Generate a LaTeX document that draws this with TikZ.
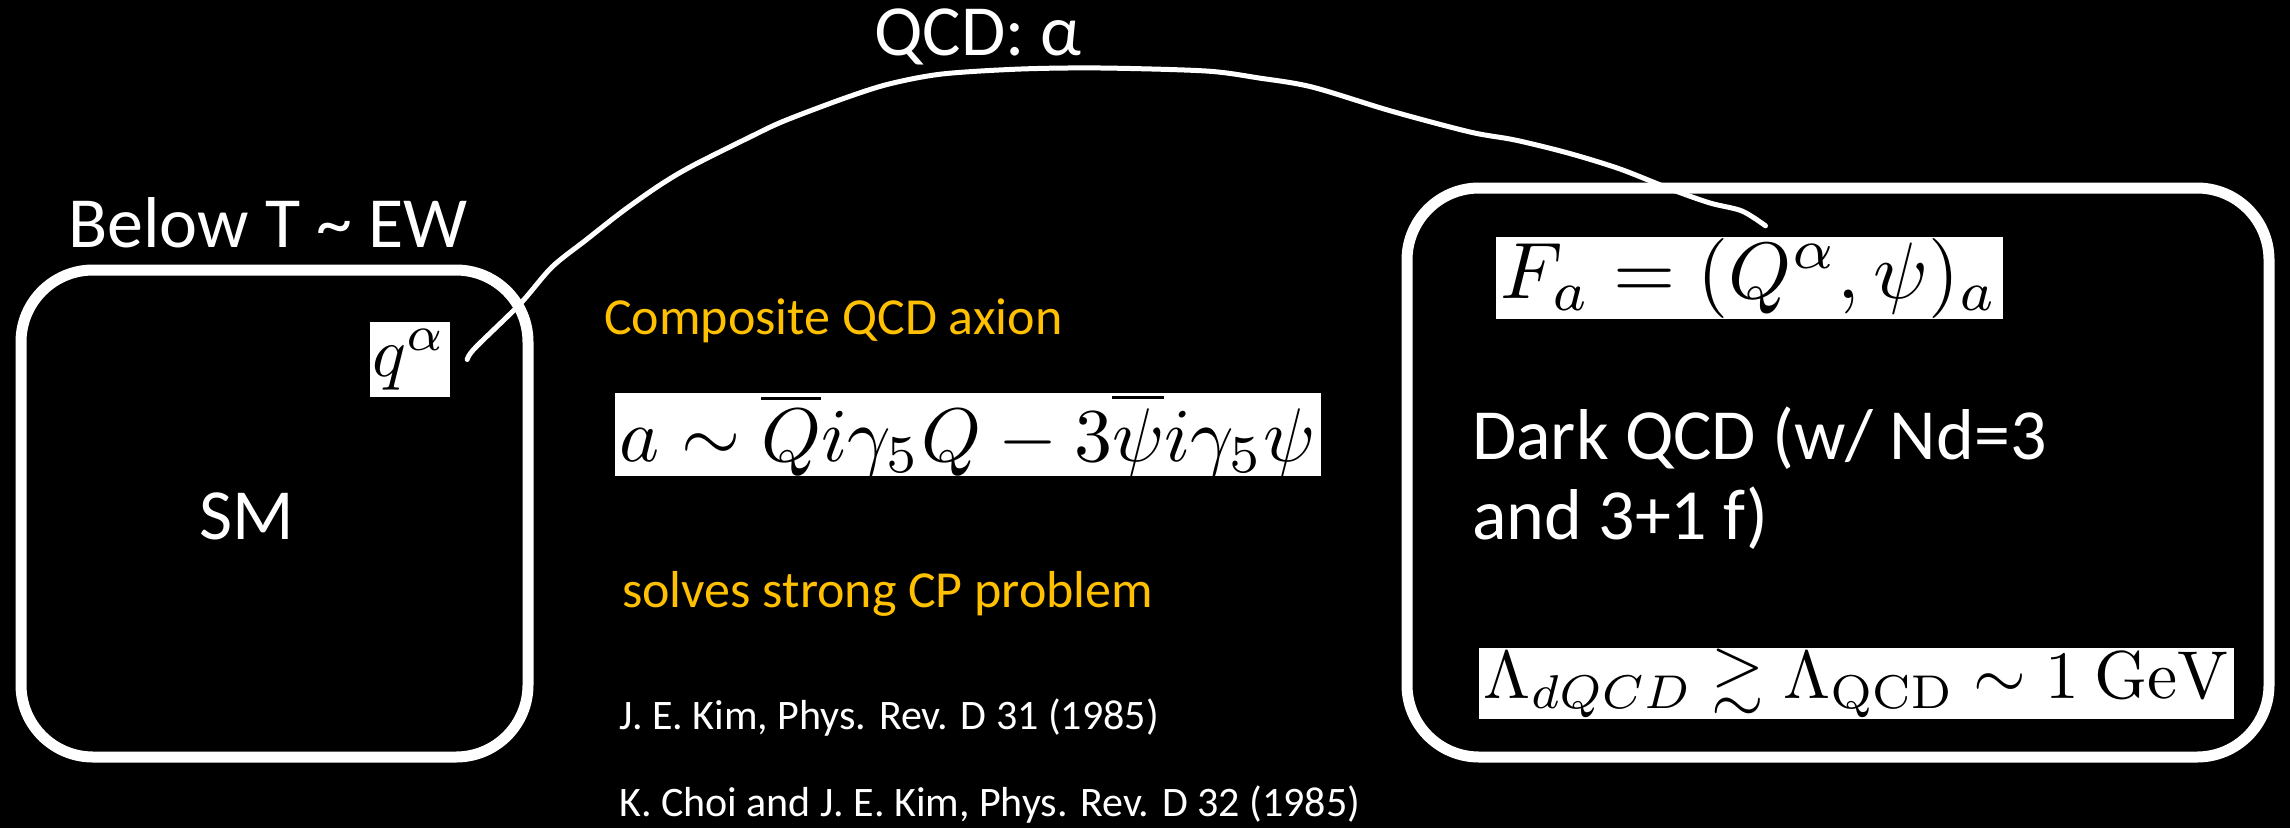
\documentclass[tikz,border=0pt]{standalone}
\usepackage[no-math]{fontspec}
\usepackage{amsmath,amssymb}
\usepackage{graphicx}
\usetikzlibrary{calc}
\setmainfont{Carlito}
\definecolor{gold}{HTML}{FFC000}
\tikzset{
  roundbox/.style={draw=white, line width=11pt, rounded corners=72pt, inner sep=0pt},
  lbl/.style={text=white, inner sep=0pt, font=\fontsize{72}{80}\selectfont},
  note/.style={text=gold, inner sep=0pt, font=\fontsize{52}{60}\selectfont, anchor=base west},
  refs/.style={text=white, inner sep=0pt, font=\fontsize{42}{50}\selectfont, anchor=base west},
  eqbox/.style={fill=white, text=black, inner sep=0pt},
  wire/.style={draw=white, line width=5pt, line cap=round, line join=round},
}
\begin{document}
\begin{tikzpicture}[x=1pt,y=-1pt]
\useasboundingbox (0,0) rectangle (2290,828);
\fill[black] (0,0) rectangle (2290,828);

% left box
\node[roundbox, minimum width=507pt, minimum height=487pt] (sm) at (274.5,513.5) {};
\node[lbl, anchor=base] (smlabel) at (247,539) {SM};
\node[lbl, anchor=base west] (below) at (68,247) {Below T \textasciitilde{} EW};
\node[eqbox, minimum width=80pt, minimum height=75pt] (q) at (410,359.5) {\resizebox{74pt}{!}{$q^{\alpha}$}};

% right box
\node[roundbox, minimum width=862pt, minimum height=569pt] (dark) at (1838,472.5) {};
\node[eqbox, minimum width=507pt, minimum height=82pt] (F) at (1749.5,278) {\resizebox{497pt}{!}{$F_a=(Q^{\alpha},\psi)_a$}};
\node[lbl, anchor=base west] (dark1) at (1472,459) {Dark QCD (w/ Nd=3};
\node[lbl, anchor=base west] (dark2) at (1472,539) {and 3+1 f)};
\node[eqbox, minimum width=755pt, minimum height=71pt] (L) at (1856.5,683.5) {\resizebox{745pt}{!}{$\Lambda_{dQCD}\gtrsim\Lambda_{\mathrm{QCD}}\sim 1\ \mathrm{GeV}$}};

% middle
\node[lbl, anchor=base] (qcd) at (978,55) {QCD: α};
\node[note] (comp) at (604,334) {Composite QCD axion};
\node[eqbox, minimum width=706pt, minimum height=83pt] (ax) at (968,434.5) {\resizebox{696pt}{!}{$a\sim\overline{Q}i\gamma_5Q-3\overline{\psi}i\gamma_5\psi$}};
\node[note] (solve) at (622,607) {solves strong CP problem};
\node[refs] (ref1) at (619,729) {J. E. Kim, Phys. Rev. D 31 (1985)};
\node[refs] (ref2) at (619,816) {K. Choi and J. E. Kim, Phys. Rev. D 32 (1985)};

% connector
\coordinate (qs) at ($(q.east)+(17,0)$);
\coordinate (fe) at ($(F.north)+(16,-11)$);
\draw[wire] plot[smooth, tension=0.5] coordinates {(qs) (475,348) (520,304) (552,267) (586,240) (623,211) (660,185) (692,166) (750,137) (784,121) (845,98) (889,84) (942,74) (1021,69) (1101,68) (1206,71) (1259,78) (1312,87) (1391,111) (1470,132) (1515,140) (1568,153) (1620,169) (1673,190) (1710,203) (1742,211) (fe)};
\end{tikzpicture}
\end{document}
